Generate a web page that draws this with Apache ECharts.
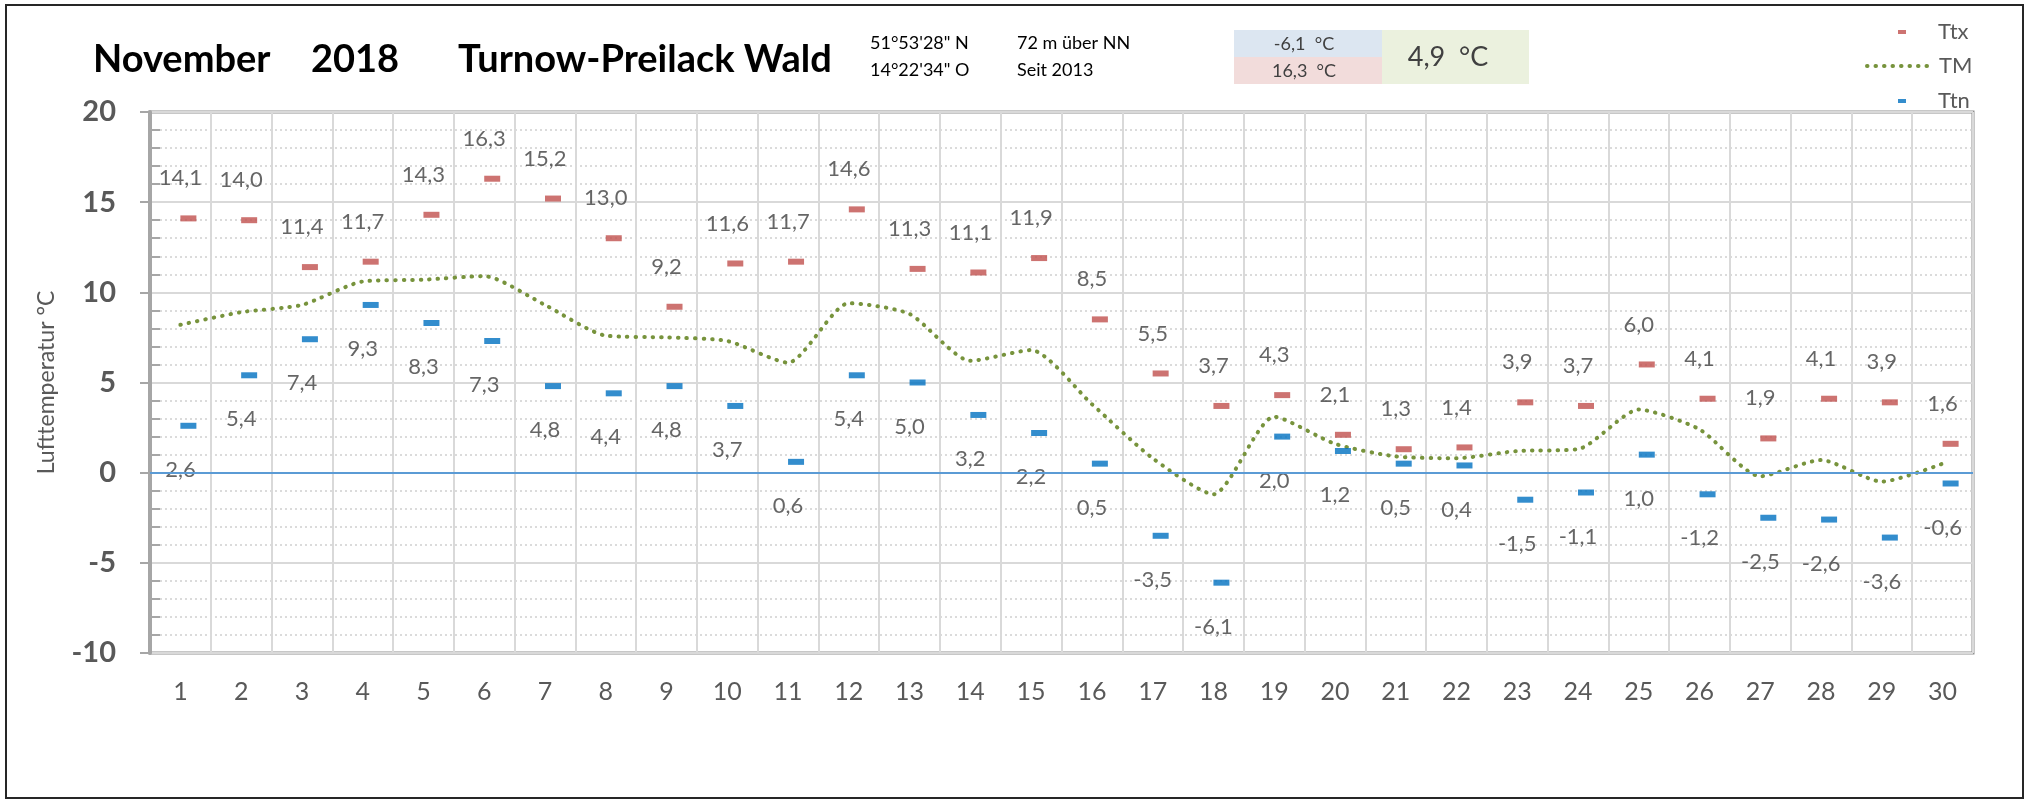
<!DOCTYPE html>
<html>
<head>
<meta charset="utf-8">
<script src="https://cdn.jsdelivr.net/npm/echarts@6/dist/echarts.min.js"></script>
<style>
html, body { margin: 0; padding: 0; background: #fff; }
#chart { width: 2025px; height: 805px; }
</style>
</head>
<body>
<div id="chart"></div>
<script>
// Tage im November 2018
var days = ['1', '2', '3', '4', '5', '6', '7', '8', '9', '10',
    '11', '12', '13', '14', '15', '16', '17', '18', '19', '20',
    '21', '22', '23', '24', '25', '26', '27', '28', '29', '30'];

// Tageshöchsttemperatur
var ttx = [14.1, 14.0, 11.4, 11.7, 14.3, 16.3, 15.2, 13.0, 9.2, 11.6,
    11.7, 14.6, 11.3, 11.1, 11.9, 8.5, 5.5, 3.7, 4.3, 2.1,
    1.3, 1.4, 3.9, 3.7, 6.0, 4.1, 1.9, 4.1, 3.9, 1.6];

// Tagesmittel
var tm = [8.2, 8.9, 9.3, 10.6, 10.7, 10.9, 9.3, 7.6, 7.5, 7.3,
    6.1, 9.4, 8.8, 6.2, 6.8, 3.8, 0.8, -1.2, 3.1, 1.6,
    0.9, 0.8, 1.2, 1.3, 3.5, 2.4, -0.2, 0.7, -0.5, 0.5];

// Tagestiefsttemperatur
var ttn = [2.6, 5.4, 7.4, 9.3, 8.3, 7.3, 4.8, 4.4, 4.8, 3.7,
    0.6, 5.4, 5.0, 3.2, 2.2, 0.5, -3.5, -6.1, 2.0, 1.2,
    0.5, 0.4, -1.5, -1.1, 1.0, -1.2, -2.5, -2.6, -3.6, -0.6];

var yMin = -10;
var yMax = 20;
var yStep = 5;

var fontName = 'Lato, "Open Sans", sans-serif';

function komma(v) {
    return v.toFixed(1).replace('.', ',');
}

var minVal = Math.min.apply(null, ttn);
var maxVal = Math.max.apply(null, ttx);
var meanVal = tm.reduce(function (a, b) { return a + b; }, 0) / tm.length;

var chart = echarts.init(document.getElementById('chart'), null, { renderer: 'canvas' });

var legendText = { color: '#595959', fontSize: 22, fontFamily: fontName };

var option = {
    backgroundColor: '#fff',
    animation: false,
    textStyle: { fontFamily: fontName },
    grid: {
        left: 150,
        right: 52,
        top: 112,
        bottom: 152,
        show: true,
        borderColor: '#8f8f8f',
        borderWidth: 3
    },
    legend: [{
        data: [{ name: 'Ttx', icon: 'rect' }],
        left: 1893,
        top: 16,
        itemWidth: 8,
        itemHeight: 4,
        textStyle: Object.assign({ padding: [0, 0, 0, 27] }, legendText)
    }, {
        data: ['TM'],
        left: 1860,
        top: 50,
        itemWidth: 67,
        itemHeight: 12,
        itemStyle: { color: 'rgba(0,0,0,0)', borderWidth: 0 },
        lineStyle: { color: '#77933c', width: 4, type: [0.5, 8], cap: 'round' },
        textStyle: legendText
    }, {
        data: [{ name: 'Ttn', icon: 'rect' }],
        left: 1893,
        top: 85,
        itemWidth: 8,
        itemHeight: 4,
        textStyle: Object.assign({ padding: [0, 0, 0, 27] }, legendText)
    }],
    xAxis: {
        type: 'category',
        data: days,
        boundaryGap: true,
        axisLine: { show: false },
        axisTick: { show: false },
        axisLabel: {
            color: '#595959',
            fontSize: 25,
            fontFamily: fontName,
            margin: 26,
            interval: 0
        },
        splitLine: {
            show: true,
            interval: 0,
            lineStyle: { color: '#d9d9d9', width: 2 }
        }
    },
    yAxis: [{
        type: 'value',
        min: yMin,
        max: yMax,
        interval: yStep,
        name: 'Lufttemperatur °C',
        nameLocation: 'middle',
        nameRotate: 90,
        nameGap: 92,
        nameTextStyle: { color: '#595959', fontSize: 23, fontFamily: fontName },
        axisLine: { show: true, lineStyle: { color: '#a6a6a6', width: 4 } },
        axisTick: { show: true, length: 10, lineStyle: { color: '#a6a6a6', width: 2 } },
        axisLabel: {
            color: '#595959',
            fontSize: 29,
            fontWeight: 'bold',
            fontFamily: fontName,
            margin: 34
        },
        splitLine: { show: true, lineStyle: { color: '#d9d9d9', width: 2 } },
        minorSplitLine: { show: true, lineStyle: { color: '#cfcfcf', width: 1.5, type: [2, 3] } }
    }, {
        // nur fuer die kleinen Striche innen
        type: 'value',
        min: yMin,
        max: yMax,
        interval: yStep,
        position: 'left',
        axisLine: { show: false },
        axisTick: { show: false, inside: true },
        axisLabel: { show: false },
        splitLine: { show: false },
        minorTick: { show: true, splitNumber: 5, length: 10, lineStyle: { color: '#a6a6a6', width: 2 } }
    }],
    graphic: [
        { type: 'rect', shape: { x: 6, y: 5, width: 2017, height: 793 }, style: { fill: 'none', stroke: '#262626', lineWidth: 2 }, silent: true },
        { type: 'text', style: { text: 'November', x: 93, y: 60, font: 'bold 38px ' + fontName, fill: '#000', verticalAlign: 'middle' } },
        { type: 'text', style: { text: '2018', x: 311, y: 60, font: 'bold 38px ' + fontName, fill: '#000', verticalAlign: 'middle' } },
        { type: 'text', style: { text: 'Turnow-Preilack Wald', x: 458, y: 60, font: 'bold 38px ' + fontName, fill: '#000', verticalAlign: 'middle' } },
        { type: 'text', style: { text: '51°53\'28" N', x: 870, y: 43, font: '18px ' + fontName, fill: '#000', verticalAlign: 'middle' } },
        { type: 'text', style: { text: '14°22\'34" O', x: 870, y: 70, font: '18px ' + fontName, fill: '#000', verticalAlign: 'middle' } },
        { type: 'text', style: { text: '72 m über NN', x: 1017, y: 43, font: '18px ' + fontName, fill: '#000', verticalAlign: 'middle' } },
        { type: 'text', style: { text: 'Seit 2013', x: 1017, y: 70, font: '18px ' + fontName, fill: '#000', verticalAlign: 'middle' } },
        { type: 'rect', shape: { x: 1234, y: 30, width: 148, height: 27 }, style: { fill: '#dce6f1' }, silent: true },
        { type: 'rect', shape: { x: 1234, y: 57, width: 148, height: 27 }, style: { fill: '#f2dcdb' }, silent: true },
        { type: 'rect', shape: { x: 1382, y: 30, width: 147, height: 54 }, style: { fill: '#ebf1de' }, silent: true },
        { type: 'text', style: { text: komma(minVal) + '  °C', x: 1304, y: 44, font: '18px ' + fontName, fill: '#404040', align: 'center', verticalAlign: 'middle' } },
        { type: 'text', style: { text: komma(maxVal) + '  °C', x: 1304, y: 71, font: '18px ' + fontName, fill: '#404040', align: 'center', verticalAlign: 'middle' } },
        { type: 'text', style: { text: komma(meanVal) + '  °C', x: 1448, y: 57, font: '27px ' + fontName, fill: '#404040', align: 'center', verticalAlign: 'middle' } }
    ],
    series: [{
        name: 'Ttx',
        type: 'scatter',
        data: ttx,
        symbol: 'rect',
        symbolSize: [16, 6],
        symbolOffset: [8, 0],
        itemStyle: { color: '#c0504d' },
        label: {
            show: true,
            position: 'top',
            distance: 26,
            offset: [-8, 0],
            color: '#404040',
            fontSize: 22,
            fontFamily: fontName,
            formatter: function (p) { return komma(p.value); }
        },
        z: 4
    }, {
        name: 'TM',
        type: 'line',
        data: tm,
        symbol: 'none',
        smooth: 0.22,
        lineStyle: { color: '#77933c', width: 4, type: [0.5, 8], cap: 'round' },
        itemStyle: { color: '#77933c' },
        markLine: {
            silent: true,
            symbol: 'none',
            label: { show: false },
            lineStyle: { color: '#5b9bd5', width: 2, type: 'solid' },
            data: [{ yAxis: 0 }]
        },
        z: 3
    }, {
        name: 'Ttn',
        type: 'scatter',
        data: ttn,
        symbol: 'rect',
        symbolSize: [16, 6],
        symbolOffset: [8, 0],
        itemStyle: { color: '#0070c0' },
        label: {
            show: true,
            position: 'bottom',
            distance: 30,
            offset: [-8, 0],
            color: '#404040',
            fontSize: 22,
            fontFamily: fontName,
            formatter: function (p) { return komma(p.value); }
        },
        z: 4
    }]
};

chart.setOption(option);
</script>
</body>
</html>
